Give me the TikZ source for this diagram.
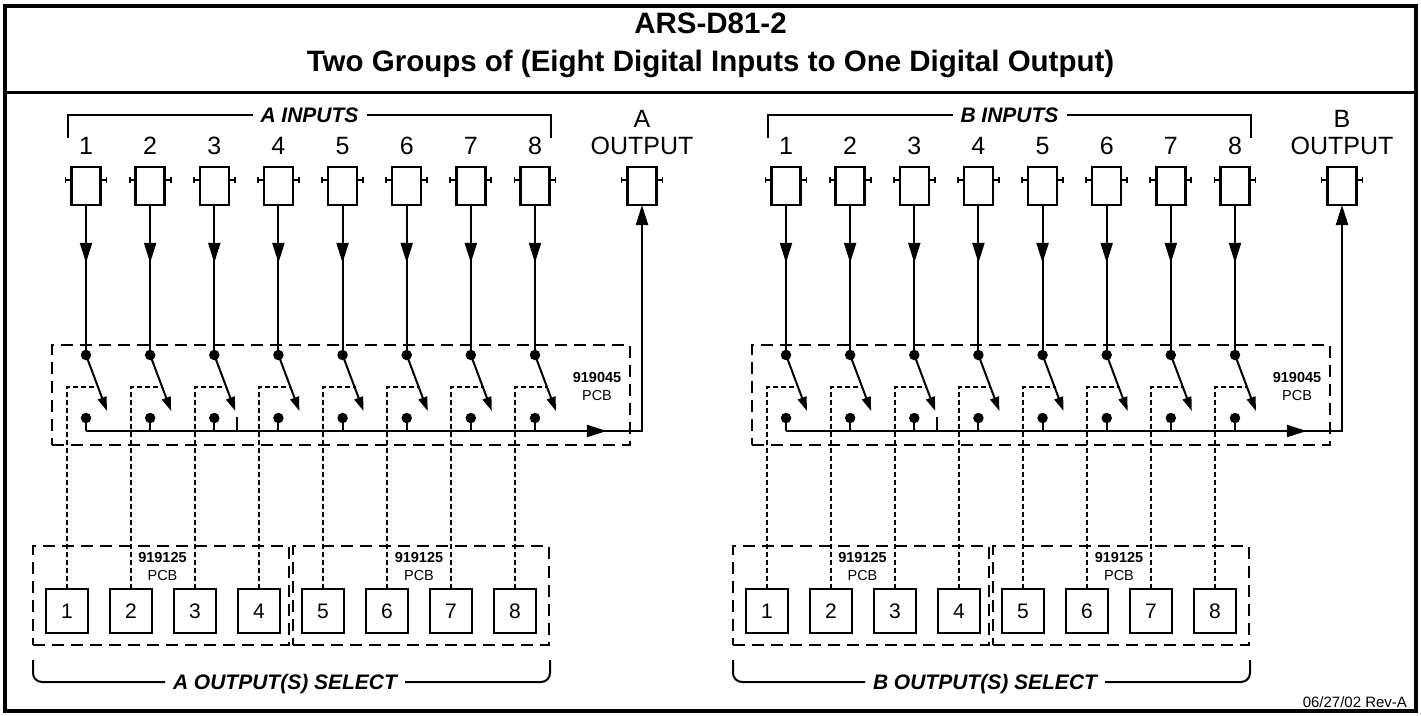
\documentclass[tikz,border=0pt]{standalone}
\usepackage{fontspec}
\setmainfont{Liberation Sans}
\usetikzlibrary{arrows.meta,decorations.markings,calc}
\begin{document}
\begin{tikzpicture}[x=1pt,y=-1pt,
  every node/.style={inner sep=0pt,outer sep=0pt},
  wire/.style={line width=2pt},
  conbox/.style={draw,line width=2.4pt,minimum width=29pt,minimum height=38pt},
  dotn/.style={circle,fill=black,minimum size=10.5pt},
  pcbdash/.style={draw,line width=2.2pt,dash pattern=on 12pt off 7pt},
  ctrl/.style={line width=1.5pt,dash pattern=on 5pt off 3pt},
  selbox/.style={draw,line width=1.5pt,minimum width=42pt,minimum height=44pt,font=\fontsize{21}{21}\selectfont},
  numlbl/.style={font=\fontsize{25}{25}\selectfont,anchor=base},
  brlbl/.style={font=\fontsize{21}{21}\selectfont\bfseries\itshape,text height=15pt,text depth=0pt,inner xsep=8pt},
  pcbnum/.style={font=\fontsize{14.5}{14.5}\selectfont\bfseries,anchor=base},
  pcbtxt/.style={font=\fontsize{14.5}{14.5}\selectfont,anchor=base},
  titlef/.style={font=\fontsize{29.5}{29.5}\selectfont\bfseries,anchor=base},
  midarrow/.style={postaction={decorate},decoration={markings,mark=at position #1 with {\arrow{Triangle[length=20pt,width=12pt]}}}},
  leverhead/.style={-{Triangle[length=14pt,width=9pt]}},
  outhead/.style={-{Triangle[length=20pt,width=12pt]}}
]
\useasboundingbox (0,0) rectangle (1421,715);
\fill[white] (0,0) rectangle (1421,715);
% frame and title
\draw[line width=4pt] (5,5.5) rectangle (1415.5,711);
\draw[line width=3pt] (5,92) -- (1415.5,92);
\node[titlef] (t1) at (710.5,33) {ARS-D81-2};
\node[titlef] (t2) at (710.5,71) {Two Groups of (Eight Digital Inputs to One Digital Output)};
\node[font=\fontsize{15}{15}\selectfont,anchor=base east] (rev) at (1407,707.5) {06/27/02 Rev-A};

\foreach \g/\o in {A/0,B/700}{
  % PCB boxes
  \node[pcbdash,minimum width=578pt,minimum height=100pt] (pcb\g) at (341+\o,395) {};
  \node[pcbnum] (pn\g) at (597+\o,382) {919045};
  \node[pcbtxt] (pt\g) at (597+\o,400) {PCB};
  \node[pcbdash,minimum width=256pt,minimum height=99pt] (sla\g) at (161+\o,595.5) {};
  \node[pcbdash,minimum width=256pt,minimum height=99pt] (slb\g) at (421+\o,595.5) {};
  \node[pcbnum] (sna\g) at (162.5+\o,562) {919125};
  \node[pcbtxt] (sta\g) at (162.5+\o,580) {PCB};
  \node[pcbnum] (snb\g) at (419+\o,562) {919125};
  \node[pcbtxt] (stb\g) at (419+\o,580) {PCB};
  \foreach \i in {1,...,8}{
    \pgfmathsetmacro\c{86+64.14*(\i-1)+\o}
    \pgfmathsetmacro\s{67+64*(\i-1)+\o}
    \node[conbox] (in\g\i) at (\c,186) {};
    \draw[line width=2.4pt] ($(in\g\i.west)+(0,-6)$) -- ++(-6.5,0);
    \draw[line width=2.4pt] ($(in\g\i.east)+(0,-6)$) -- ++(6.5,0);
    \draw[line width=1.8pt] ($(in\g\i.west)+(-6,-9)$) -- ++(0,6);
    \draw[line width=1.8pt] ($(in\g\i.east)+(6,-9)$) -- ++(0,6);
    \node[numlbl] (nl\g\i) at (\c,154) {\i};
    \node[dotn] (dt\g\i) at (\c,355) {};
    \node[dotn] (db\g\i) at (\c,418) {};
    \draw[wire,midarrow=0.4] (in\g\i.south) -- (dt\g\i);
    \coordinate (lt\g\i) at (\c+21,411);
    \draw[wire,leverhead] (dt\g\i.center) -- (lt\g\i);
    \coordinate (bs\g\i) at (\c,431);
    \draw[wire] (db\g\i.center) -- (bs\g\i);
    \node[selbox] (sel\g\i) at (\s,611) {\i};
    \coordinate (ct\g\i) at (\s,387);
    \coordinate (ce\g\i) at (\c+13,387);
    \draw[ctrl] (sel\g\i.north) -- (ct\g\i) -- (ce\g\i);
  }
  % output connector
  \node[conbox] (out\g) at (642+\o,186) {};
  \draw[line width=2.4pt] ($(out\g.west)+(0,-6)$) -- ++(-6.5,0);
  \draw[line width=2.4pt] ($(out\g.east)+(0,-6)$) -- ++(6.5,0);
  \draw[line width=1.8pt] ($(out\g.west)+(-6,-9)$) -- ++(0,6);
  \draw[line width=1.8pt] ($(out\g.east)+(6,-9)$) -- ++(0,6);
  \node[numlbl] (oa\g) at (642+\o,127) {\g};
  \node[numlbl] (ob\g) at (642+\o,154) {OUTPUT};
  % bus
  \coordinate (tk\g) at (237+\o,431);
  \coordinate (tt\g) at (237+\o,417);
  \coordinate (cr\g) at (642+\o,431);
  \draw[line width=1.7pt] (bs\g1) -- (tk\g);
  \draw[line width=1.5pt] (tt\g) -- (tk\g);
  \draw[line width=2.3pt,midarrow=0.586,outhead] (tk\g) -- (cr\g) -- (out\g.south);
  % top bracket
  \node[brlbl] (inl\g) at (309.5+\o,115) {\g{} INPUTS};
  \coordinate (tla\g) at (68+\o,138);
  \coordinate (tlb\g) at (68+\o,115);
  \coordinate (tra\g) at (551+\o,138);
  \coordinate (trb\g) at (551+\o,115);
  \draw[wire] (tla\g) -- (tlb\g) -- (inl\g.west);
  \draw[wire] (inl\g.east) -- (trb\g) -- (tra\g);
  % bottom bracket
  \node[brlbl] (osl\g) at (285+\o,682) {\g{} OUTPUT(S) SELECT};
  \coordinate (bla\g) at (33+\o,660);
  \coordinate (blb\g) at (33+\o,682);
  \coordinate (bra\g) at (550+\o,660);
  \coordinate (brb\g) at (550+\o,682);
  \draw[wire,rounded corners=9pt] (bla\g) -- (blb\g) -- (osl\g.west);
  \draw[wire,rounded corners=9pt] (osl\g.east) -- (brb\g) -- (bra\g);
}
\end{tikzpicture}
\end{document}
